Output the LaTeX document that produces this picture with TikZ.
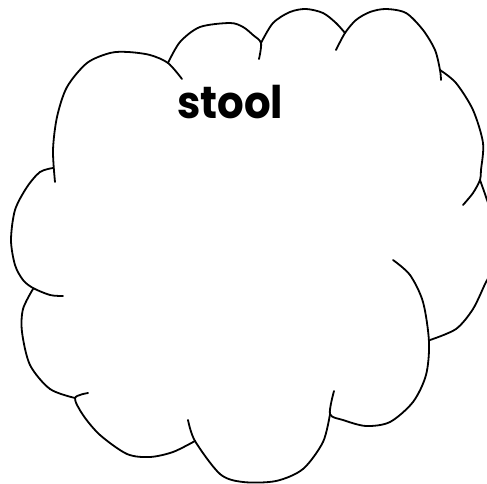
\documentclass[tikz,border=0pt]{standalone}
\usepackage{fontspec}
\newfontfamily\labelfont{Poppins}
\begin{document}
\begin{tikzpicture}[x=1pt,y=-1pt,
  lobe/.style={draw=black,line width=1.8pt,line cap=round},
  lbl/.style={font=\labelfont\bfseries\fontsize{45}{50}\selectfont,inner sep=0pt,anchor=base west}]
\useasboundingbox (0,0) rectangle (487,484);
\clip (0,0) rectangle (487,484);
% A
\draw[lobe] plot[smooth] coordinates {(55,182) (53,150) (57,117) (67,87) (87,63) (110,53) (128,52) (150,55) (168,63) (182,79)};
% B
\draw[lobe] plot[smooth] coordinates {(168,63) (180,42) (200,27) (230,23) (243,27) (253,35) (261,43) (259,59)};
% C
\draw[lobe] plot[smooth] coordinates {(261,43) (273,23) (290,12) (306,9) (323,13) (336,23) (345,33)};
% D
\draw[lobe] plot[smooth] coordinates {(336,50) (345,33) (356,20) (370,12) (386,9) (406,13) (423,30) (435,50) (440,70) (441,80)};
% E
\draw[lobe] plot[smooth] coordinates {(440,70) (456,83) (473,110) (483,143) (481,170) (480,180) (473,193) (463,205)};
% F
\draw[lobe] plot[smooth] coordinates {(480,180) (486,197) (494,222) (497,250) (493,270) (486,282) (473,309) (456,329) (430,340)};
% G
\draw[lobe] plot[smooth] coordinates {(393,260) (410,275) (423,302) (429,342) (426,375) (413,402) (390,422) (366,426) (343,420) (330,414) (334,391)};
% H
\draw[lobe] plot[smooth] coordinates {(330,414) (323,442) (303,469) (276,481) (243,482) (220,474) (195,441) (188,420)};
% I
\draw[lobe] plot[smooth] coordinates {(195,441) (173,452) (150,457) (127,454) (100,435) (83,415) (75,398) (88,393)};
% J
\draw[lobe] plot[smooth] coordinates {(75,398) (50,389) (30,365) (22,332) (23,309) (33,289)};
% K
\draw[lobe] plot[smooth] coordinates {(53,168) (40,172) (27,187) (15,210) (11,240) (15,265) (23,280) (33,288) (50,295) (63,296)};
\node[lbl] (word) at (177,119) {\scalebox{0.93}[1]{stool}};
\end{tikzpicture}
\end{document}
